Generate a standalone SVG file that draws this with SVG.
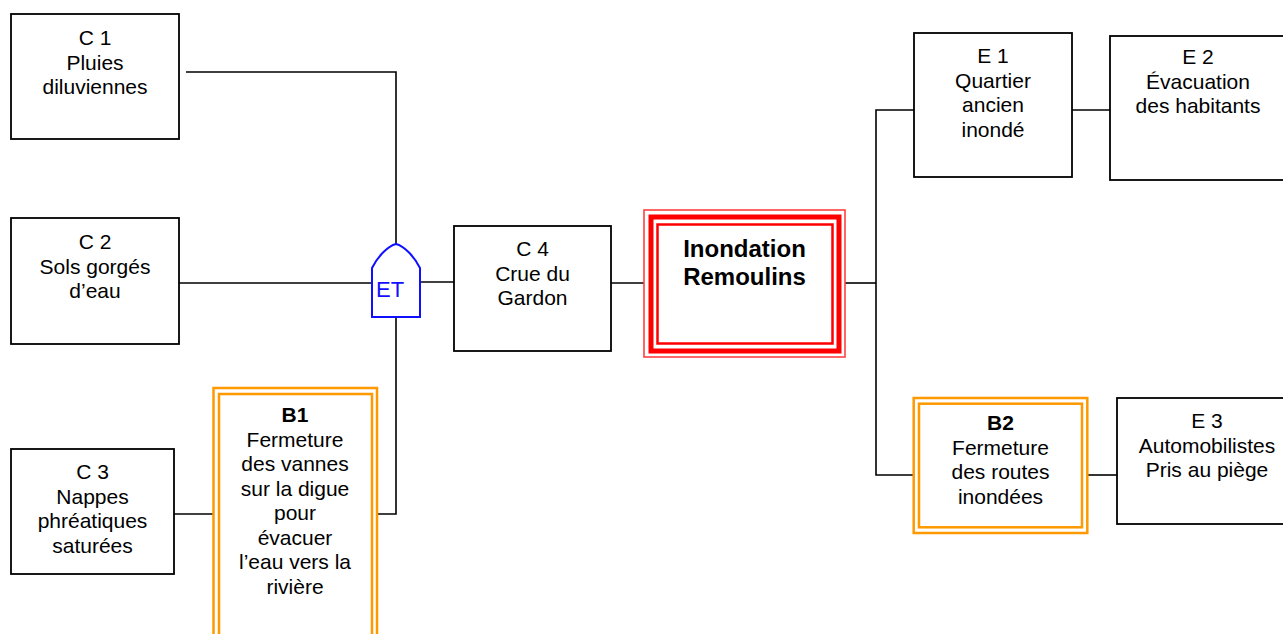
<svg xmlns="http://www.w3.org/2000/svg" width="1283" height="634" viewBox="0 0 1283 634">
<style>
.box{fill:#fff;stroke:#000;stroke-width:1.8}
.t{font-family:"Liberation Sans",Arial,sans-serif;font-size:21px;fill:#000;text-anchor:middle}
.b{font-weight:bold}
.con{fill:none;stroke:#000;stroke-width:1.6}
.or{fill:none;stroke:#ff9900;stroke-width:2.5}
.rd{fill:none;stroke:#ff0000}
</style>
<rect width="1283" height="634" fill="#fff"/>
<g id="connectors">
<polyline class="con" points="186,72 396,72 396,244"/>
<line class="con" x1="179" y1="283" x2="372" y2="283"/>
<polyline class="con" points="378,514 396,514 396,317"/>
<line class="con" x1="174" y1="514" x2="213" y2="514"/>
<line class="con" x1="420" y1="282" x2="454" y2="282"/>
<line class="con" x1="611" y1="283" x2="644" y2="283"/>
<line class="con" x1="845" y1="283" x2="876" y2="283"/>
<polyline class="con" points="914,110 876,110 876,475 913,475"/>
<line class="con" x1="1072" y1="110" x2="1110" y2="110"/>
<line class="con" x1="1088" y1="475" x2="1117" y2="475"/>
</g>
<g id="C1">
<rect class="box" x="11" y="14" width="168" height="125"/>
<text class="t" x="95" y="45">C 1</text>
<text class="t" x="95" y="69.5">Pluies</text>
<text class="t" x="95" y="94">diluviennes</text>
</g>
<g id="C2">
<rect class="box" x="11" y="218" width="168" height="126"/>
<text class="t" x="95" y="249">C 2</text>
<text class="t" x="95" y="273.5">Sols gorgés</text>
<text class="t" x="95" y="298">d’eau</text>
</g>
<g id="C3">
<rect class="box" x="11" y="449" width="163" height="125"/>
<text class="t" x="92.5" y="479">C 3</text>
<text class="t" x="92.5" y="503.5">Nappes</text>
<text class="t" x="92.5" y="528">phréatiques</text>
<text class="t" x="92.5" y="552.5">saturées</text>
</g>
<g id="B1">
<rect class="or" x="213.5" y="388" width="163.5" height="270"/>
<rect class="or" x="219" y="394" width="153" height="270"/>
<text class="t b" x="295" y="422">B1</text>
<text class="t" x="295" y="446.5">Fermeture</text>
<text class="t" x="295" y="471">des vannes</text>
<text class="t" x="295" y="495.5">sur la digue</text>
<text class="t" x="295" y="520">pour</text>
<text class="t" x="295" y="544.5">évacuer</text>
<text class="t" x="295" y="569">l’eau vers la</text>
<text class="t" x="295" y="593.5">rivière</text>
</g>
<g id="ET">
<path d="M372,317 L372,268 C378,256 388,246 396,244 C404,246 414,256 420,268 L420,317 Z" fill="#fff" stroke="#1010ff" stroke-width="2"/>
<text x="376" y="297" font-family="Liberation Sans,Arial,sans-serif" font-size="22" fill="#1010ff">ET</text>
</g>
<g id="C4">
<rect class="box" x="454" y="226" width="157" height="125"/>
<text class="t" x="532.5" y="256">C 4</text>
<text class="t" x="532.5" y="280.5">Crue du</text>
<text class="t" x="532.5" y="305">Gardon</text>
</g>
<g id="Inondation">
<rect x="644" y="210" width="201" height="147" fill="#fff" stroke="#ff4040" stroke-width="1.6"/>
<rect class="rd" x="651" y="217" width="188" height="134" stroke-width="5"/>
<rect class="rd" x="657.5" y="224.5" width="175" height="119" stroke-width="2.5"/>
<text class="t b" x="744.5" y="257" style="font-size:24px">Inondation</text>
<text class="t b" x="744.5" y="285" style="font-size:24px">Remoulins</text>
</g>
<g id="E1">
<rect class="box" x="914" y="33" width="158" height="144"/>
<text class="t" x="993" y="63">E 1</text>
<text class="t" x="993" y="87.5">Quartier</text>
<text class="t" x="993" y="112">ancien</text>
<text class="t" x="993" y="136.5">inondé</text>
</g>
<g id="E2">
<rect class="box" x="1110" y="36" width="176" height="144"/>
<text class="t" x="1198" y="64">E 2</text>
<text class="t" x="1198" y="88.5">Évacuation</text>
<text class="t" x="1198" y="113">des habitants</text>
</g>
<g id="B2">
<rect class="or" x="913.7" y="398" width="173.6" height="135"/>
<rect class="or" x="919" y="403.7" width="163" height="123.6"/>
<text class="t b" x="1000.5" y="430">B2</text>
<text class="t" x="1000.5" y="454.5">Fermeture</text>
<text class="t" x="1000.5" y="479">des routes</text>
<text class="t" x="1000.5" y="503.5">inondées</text>
</g>
<g id="E3">
<rect class="box" x="1117" y="398" width="180" height="126"/>
<text class="t" x="1207" y="428">E 3</text>
<text class="t" x="1207" y="452.5">Automobilistes</text>
<text class="t" x="1207" y="477">Pris au piège</text>
</g>
</svg>
